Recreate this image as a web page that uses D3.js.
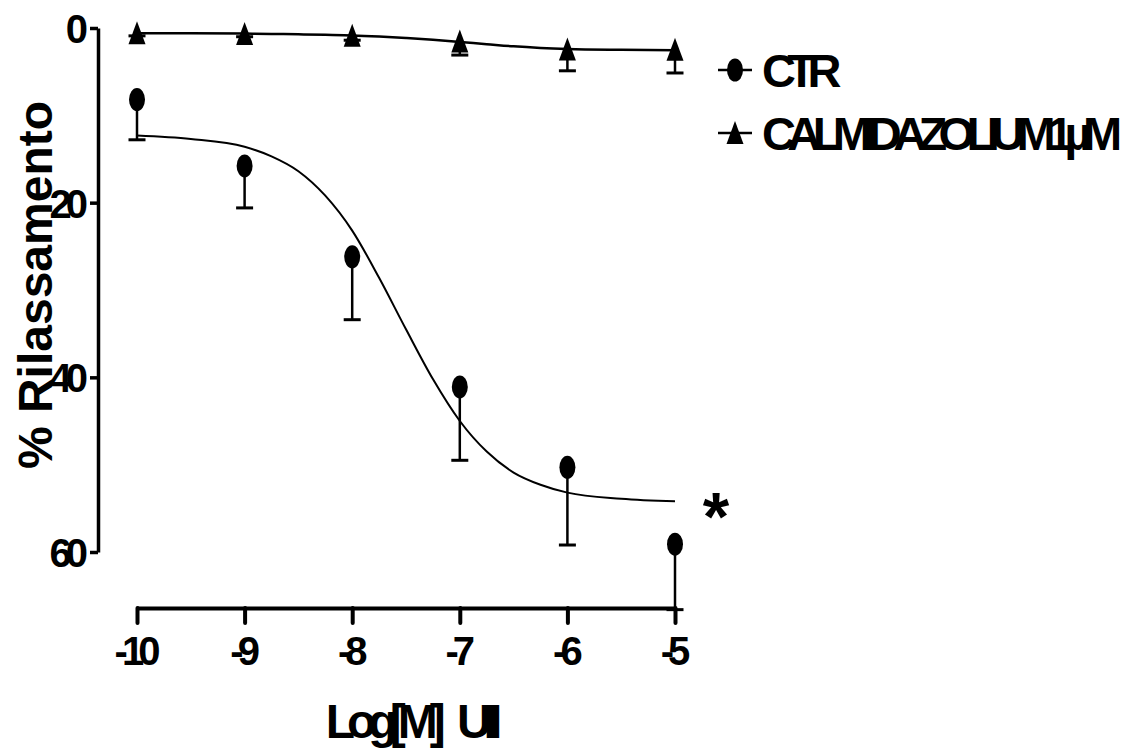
<!DOCTYPE html>
<html>
<head>
<meta charset="utf-8">
<script src="https://cdn.jsdelivr.net/npm/d3@7"></script>
<style>
  html, body { margin: 0; padding: 0; background: #fff; }
  svg { display: block; }
  text { font-family: "Liberation Sans", Arial, sans-serif; font-weight: bold; fill: #000; }
</style>
</head>
<body>
<svg id="chart" width="1133" height="752"></svg>
<script>
// ---- Data ----
const logDose = [-10, -9, -8, -7, -6, -5];
const ctrMean = [8.2, 15.8, 26.2, 41.1, 50.3, 59.1];
const ctrSem  = [4.6, 4.8, 7.2, 8.4, 8.9, 7.5];
const calmMean = [0.6, 0.7, 0.9, 1.55, 2.45, 2.5];
const calmSem  = [0.3, 0.3, 0.5, 1.55, 2.45, 2.65];

// fitted curves, points
const fitX    = [-10, -9.5, -9, -8.75, -8.5, -8.25, -8, -7.75, -7.5, -7.25, -7, -6.75, -6.5, -6.25, -6, -5.5, -5];
const ctrFit  = [12.3, 12.7, 13.6, 14.7, 16.4, 19.2, 23.2, 28.6, 34.5, 40.2, 45.0, 48.5, 50.9, 52.3, 53.2, 53.9, 54.2];
const calmFit = [0.6, 0.61, 0.64, 0.68, 0.72, 0.78, 0.85, 0.98, 1.15, 1.35, 1.6, 1.85, 2.1, 2.28, 2.4, 2.5, 2.55];

const yTicks = [0, 20, 40, 60];
const xTicks = [-10, -9, -8, -7, -6, -5];
const seriesNames = ["CTR", "CALMIDAZOLIUM1µM"];
const xTitle = "Log[M] UII";
const yTitle = "% Rilassamento";

// ---- Layout ----
const svg = d3.select("#chart");
const x = d3.scaleLinear().domain([-10, -5]).range([137, 675]);
const y = d3.scaleLinear().domain([0, 60]).range([28, 552]);
const yAxisX = 98;
const xAxisY = 608;

// Y axis
const yAxis = svg.append("g")
  .attr("transform", `translate(${yAxisX},0)`)
  .call(d3.axisLeft(y).tickValues(yTicks).tickFormat(d => String(d)).tickSize(8).tickSizeOuter(0).tickPadding(8));
yAxis.select(".domain").attr("stroke", "#000").attr("stroke-width", 3.5);
yAxis.selectAll(".tick line").attr("stroke", "#000").attr("stroke-width", 3.5);
yAxis.selectAll(".tick text")
  .style("font-size", "40px").style("letter-spacing", "-6px")
  .attr("dy", "0.36em");

// X axis
const xAxis = svg.append("g")
  .attr("transform", `translate(0,${xAxisY})`)
  .call(d3.axisBottom(x).tickValues(xTicks).tickFormat(d => String(d)).tickSize(15).tickSizeOuter(0).tickPadding(14));
xAxis.select(".domain").attr("stroke", "#000").attr("stroke-width", 4);
xAxis.selectAll(".tick line").attr("stroke", "#000").attr("stroke-width", 4).attr("stroke-linecap", "round");
xAxis.selectAll(".tick text")
  .style("font-size", "40px").style("letter-spacing", "-6px")
  .attr("dx", "-3px");

// Titles
svg.append("text")
  .attr("transform", `translate(52,285) rotate(-90)`)
  .attr("text-anchor", "middle")
  .style("font-size", "48px")
  .text(yTitle);

svg.append("text")
  .attr("x", 410).attr("y", 738)
  .attr("text-anchor", "middle")
  .style("font-size", "48px").style("letter-spacing", "-8px").style("word-spacing", "14px")
  .text(xTitle);

// Fitted curves
const line = d3.line().x(d => x(d[0])).y(d => y(d[1])).curve(d3.curveMonotoneX);
svg.append("path")
  .attr("d", line(fitX.map((v, i) => [v, ctrFit[i]])))
  .attr("fill", "none").attr("stroke", "#000").attr("stroke-width", 2);
svg.append("path")
  .attr("d", line(fitX.map((v, i) => [v, calmFit[i]])))
  .attr("fill", "none").attr("stroke", "#000").attr("stroke-width", 2.5);

// Error bars
function errorBars(means, sems, capW) {
  const g = svg.append("g").attr("stroke", "#000").attr("stroke-width", 2.5);
  logDose.forEach((d, i) => {
    const y0 = y(means[i]), y1 = y(means[i] + sems[i]);
    g.append("line").attr("x1", x(d)).attr("x2", x(d)).attr("y1", y0).attr("y2", y1);
    g.append("line").attr("x1", x(d) - capW / 2).attr("x2", x(d) + capW / 2).attr("y1", y1).attr("y2", y1).attr("stroke-width", 3);
  });
}
errorBars(ctrMean, ctrSem, 17);
errorBars(calmMean, calmSem, 17);

// Markers
const triPath = (cx, cy) => `M${cx},${cy - 12}L${cx + 8.5},${cy + 11}L${cx - 8.5},${cy + 11}Z`;
svg.append("g").selectAll("ellipse").data(logDose).join("ellipse")
  .attr("cx", d => x(d)).attr("cy", (d, i) => y(ctrMean[i]))
  .attr("rx", 8).attr("ry", 11.5).attr("fill", "#000");
svg.append("g").selectAll("path").data(logDose).join("path")
  .attr("d", (d, i) => triPath(x(d), y(calmMean[i]))).attr("fill", "#000");

// Significance asterisk
svg.append("text").attr("x", 716).attr("y", 540).attr("text-anchor", "middle")
  .style("font-size", "68px").text("*");

// Legend
const legend = svg.append("g");
const legY = [70, 133];
seriesNames.forEach((name, i) => {
  const gy = legY[i];
  legend.append("line").attr("x1", 718).attr("x2", 752).attr("y1", gy).attr("y2", gy)
    .attr("stroke", "#000").attr("stroke-width", 2.5);
  if (i === 0) {
    legend.append("ellipse").attr("cx", 735).attr("cy", gy).attr("rx", 8).attr("ry", 11.5).attr("fill", "#000");
  } else {
    legend.append("path").attr("d", triPath(735, gy)).attr("fill", "#000");
  }
  legend.append("text").attr("x", 762).attr("y", gy).attr("dy", "0.36em")
    .style("font-size", "47px").style("letter-spacing", "-8.6px")
    .text(name);
});
</script>
</body>
</html>
